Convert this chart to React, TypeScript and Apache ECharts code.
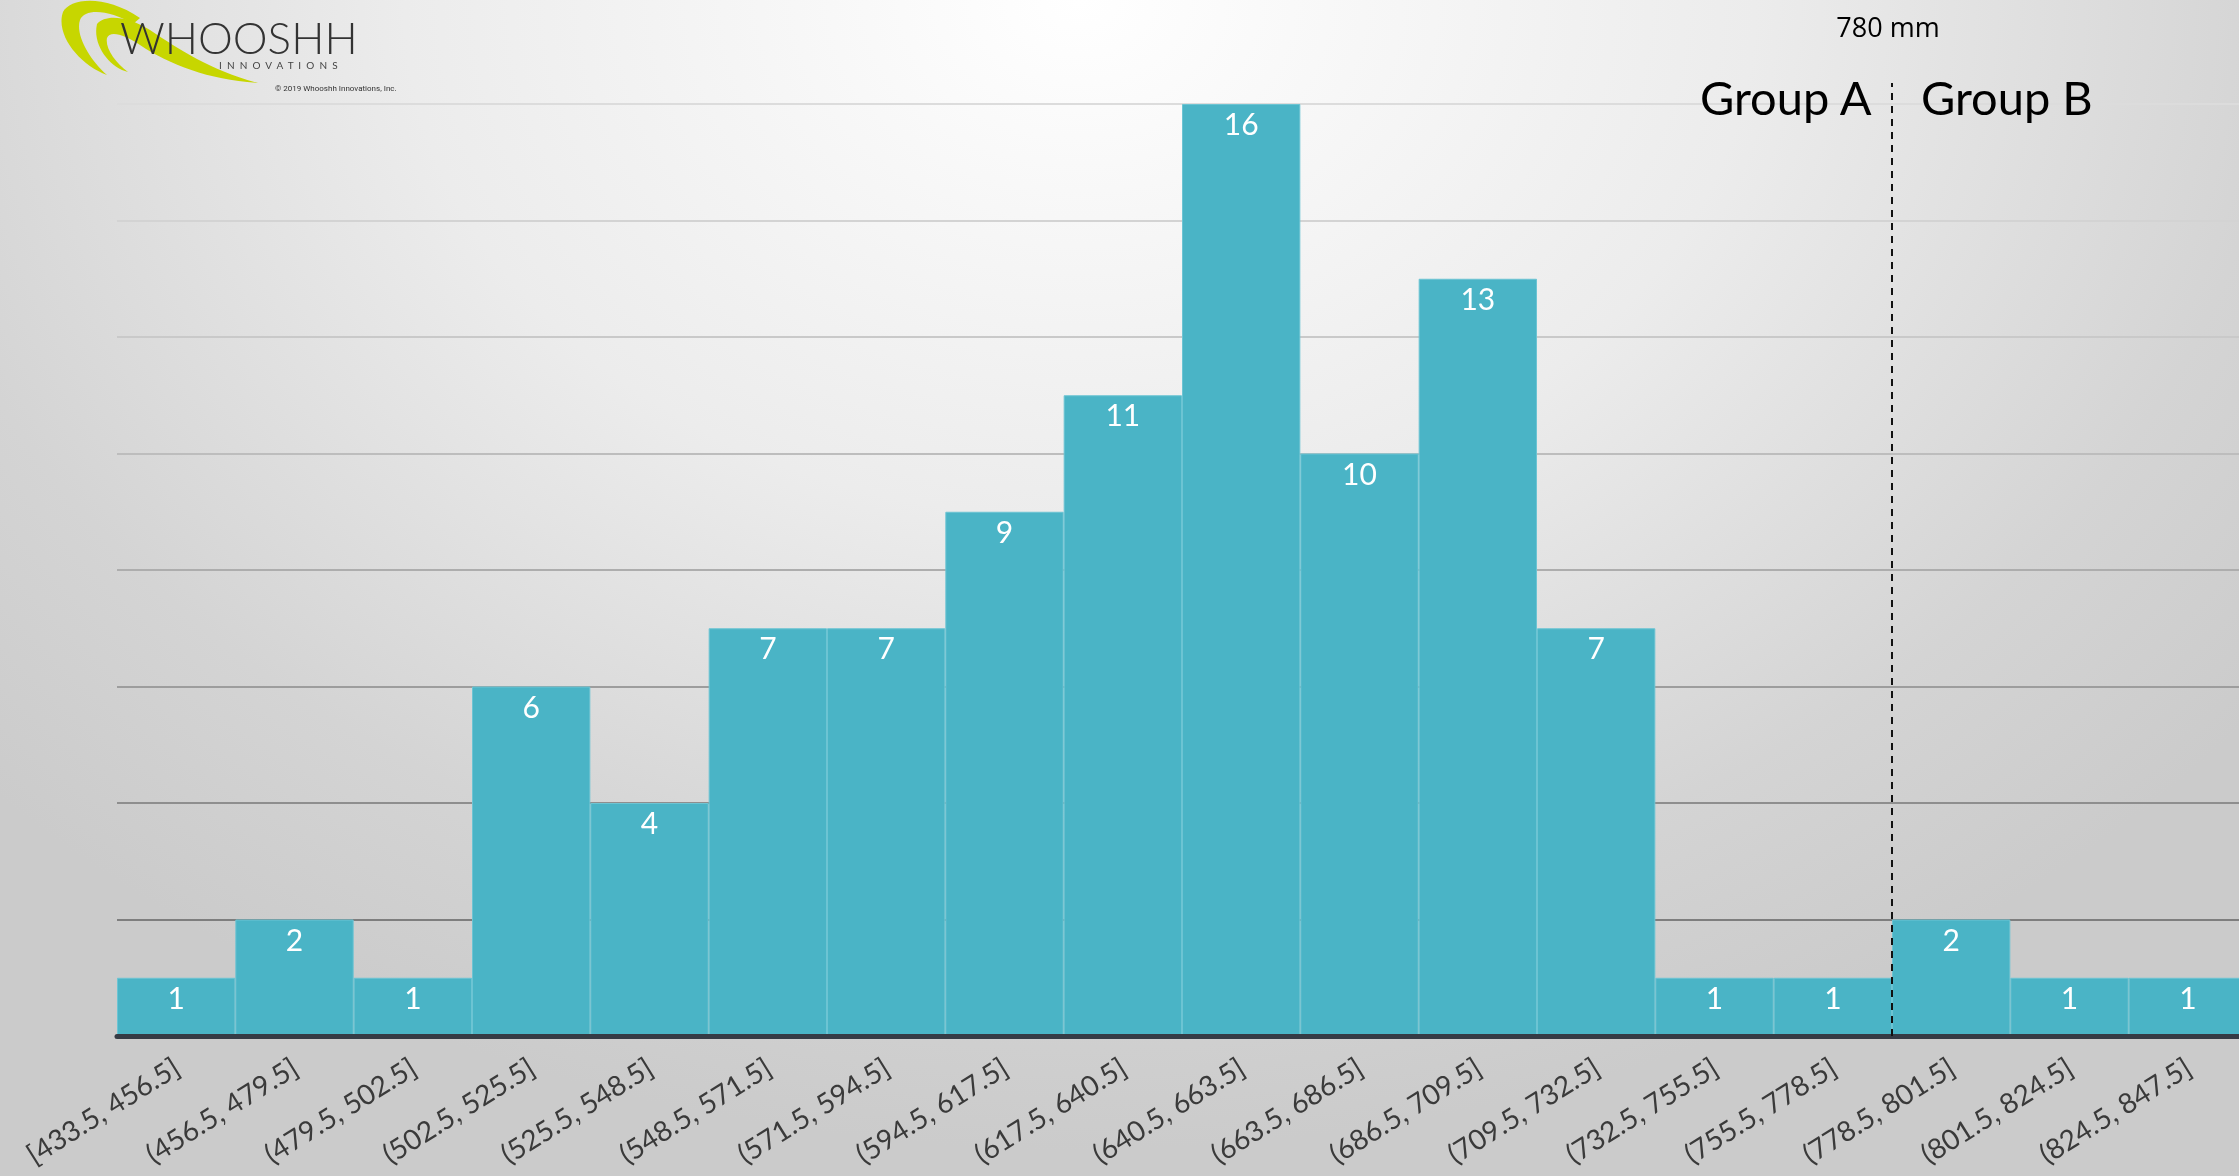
import React, { useEffect, useRef } from "react";
import * as echarts from "echarts";

const categories = [
  "[433.5, 456.5]", "(456.5, 479.5]", "(479.5, 502.5]", "(502.5, 525.5]",
  "(525.5, 548.5]", "(548.5, 571.5]", "(571.5, 594.5]", "(594.5, 617.5]",
  "(617.5, 640.5]", "(640.5, 663.5]", "(663.5, 686.5]", "(686.5, 709.5]",
  "(709.5, 732.5]", "(732.5, 755.5]", "(755.5, 778.5]", "(778.5, 801.5]",
  "(801.5, 824.5]", "(824.5, 847.5]",
];
const counts = [1, 2, 1, 6, 4, 7, 7, 9, 11, 16, 10, 13, 7, 1, 1, 2, 1, 1];
const splitAt = 15; // boundary index of the 780 mm divider
const dividerTop = 16.36;
const dividerPoints = [
  [splitAt, 0],
  [splitAt, dividerTop],
];

const SWOOSH_A =
  "M 63 12 C 70 -2 105 -6 140 18 L 133 24 C 110 10 85 8 80 20 C 75 35 90 60 107 75 C 80 65 55 35 63 12 Z";
const SWOOSH_B =
  "M 97 24 C 105 15 125 15 150 30 C 180 50 210 70 258 83 C 210 80 170 65 140 45 C 125 35 110 30 107 38 C 105 48 115 62 128 72 C 110 68 92 45 97 24 Z";

let registered = false;
function registerShapes() {
  if (registered) return;
  echarts.graphic.registerShape("swooshA", echarts.graphic.extendPath(SWOOSH_A, {}) as any);
  echarts.graphic.registerShape("swooshB", echarts.graphic.extendPath(SWOOSH_B, {}) as any);
  registered = true;
}

export default function App() {
  const ref = useRef<HTMLDivElement>(null);
  useEffect(() => {
    if (!ref.current) return;
    registerShapes();
    const chart = echarts.init(ref.current, undefined, { renderer: "svg" });
    const gridColors = [
      "rgba(0,0,0,0)", "#7e7e7e", "#8e8e8e", "#9d9d9d", "#adadad",
      "#bdbdbd", "#c9c9c9", "#d3d3d3", "#dcdcdc",
    ];
    chart.setOption({
      animation: false,
      backgroundColor: "transparent",
      grid: {
        left: 117,
        right: 0,
        top: 104,
        bottom: 140,
        containLabel: false,
        outerBoundsMode: "none",
      },
      xAxis: [
        {
          type: "category",
          data: categories,
          axisTick: { show: false },
          axisLine: { show: true, lineStyle: { color: "#353b45", width: 5 } },
          axisLabel: {
            interval: 0,
            rotate: 32,
            margin: 28,
            fontSize: 28,
            lineHeight: 30,
            fontFamily: "Lato",
            color: "#3a3a3a",
          },
          z: 5,
        },
        { type: "value", min: 0, max: 18, show: false },
      ],
      yAxis: {
        type: "value",
        min: 0,
        max: 16,
        interval: 2,
        axisLabel: { show: false },
        axisLine: { show: false },
        axisTick: { show: false },
        splitLine: { show: true, lineStyle: { color: gridColors, width: 2 } },
      },
      series: [
        {
          type: "bar",
          data: counts,
          barCategoryGap: 0,
          itemStyle: { color: "#4ab4c6", borderColor: "#6cc4d3", borderWidth: 1 },
          label: {
            show: true,
            position: "insideTop",
            distance: 4,
            color: "#ffffff",
            fontSize: 30,
            fontFamily: "Lato",
          },
        },
        {
          type: "line",
          xAxisIndex: 1,
          data: dividerPoints,
          showSymbol: false,
          symbol: "none",
          clip: false,
          silent: true,
          z: 6,
          lineStyle: { type: [7, 6], color: "#111", width: 2 },
        },
      ],
      graphic: [
        { type: "swooshA", x: 0, y: 0, style: { fill: "#c7d600" }, z: 10 },
        { type: "swooshB", x: 0, y: 0, style: { fill: "#c7d600" }, z: 10 },
        {
          type: "text", x: 120, y: 37, z: 100,
          style: { text: "WHOOSHH", fontSize: 44, lineHeight: 42, fontWeight: 300, fontFamily: "Lato", fill: "#333333", verticalAlign: "middle" },
        },
        {
          type: "text", x: 219, y: 65, z: 100,
          style: { text: "I  N  N  O  V  A  T  I  O  N  S", fontSize: 10, lineHeight: 10, fontFamily: "Lato", fill: "#444", verticalAlign: "middle" },
        },
        {
          type: "text", x: 275, y: 88, z: 100,
          style: { text: "© 2019 Whooshh Innovations, Inc.", fontSize: 8, fontFamily: "Roboto", fill: "#333", verticalAlign: "middle" },
        },
        {
          type: "text", x: 1888, y: 26, z: 100,
          style: { text: "780 mm", fontSize: 27, fontFamily: "Open Sans", fill: "#000", align: "center", verticalAlign: "middle" },
        },
        {
          type: "text", x: 1700, y: 97, z: 100,
          style: { text: "Group A", fontSize: 47, fontFamily: "Lato", fill: "#000", verticalAlign: "middle" },
        },
        {
          type: "text", x: 1921, y: 97, z: 100,
          style: { text: "Group B", fontSize: 47, fontFamily: "Lato", fill: "#000", verticalAlign: "middle" },
        },
      ],
    });
    return () => chart.dispose();
  }, []);

  return (
    <div
      style={{
        position: "fixed",
        left: 0,
        top: 0,
        width: 2239,
        height: 1176,
        overflow: "hidden",
        background:
          "radial-gradient(ellipse 1500px 1150px at 1080px 0px, #ffffff 0%, #ececec 45%, #d4d4d4 80%, #cbcbcb 100%)",
      }}
    >
      <div ref={ref} style={{ width: 2247, height: 1176 }} />
    </div>
  );
}
